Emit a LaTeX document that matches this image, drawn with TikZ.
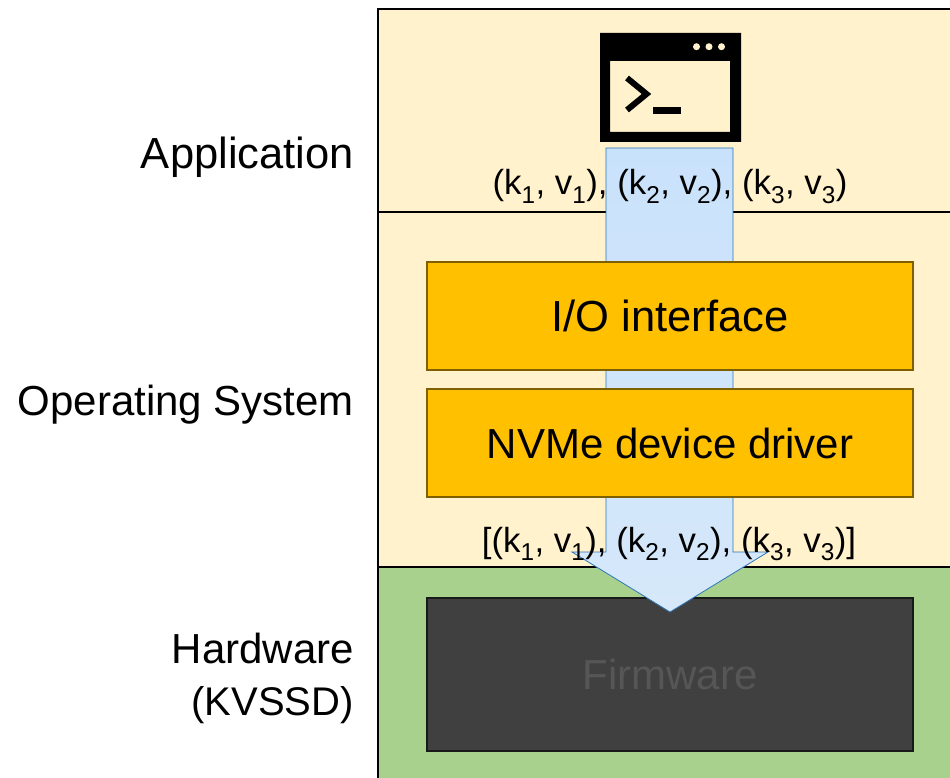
\documentclass[tikz,border=0pt]{standalone}
\usepackage{fontspec}
\setmainfont{Liberation Sans}
\usepackage{xcolor}
\definecolor{osback}{HTML}{FFF2CC}
\definecolor{hwback}{HTML}{A9D18E}
\definecolor{boxgold}{HTML}{FFC000}
\definecolor{boxedge}{HTML}{7F6000}
\definecolor{fwdark}{HTML}{404040}
\definecolor{fwtext}{HTML}{565656}
\definecolor{arrowtop}{HTML}{C9E2FB}
\definecolor{arrowbot}{HTML}{D6E8FA}
\definecolor{arrowedge}{HTML}{2E75B6}
\newcommand\kv[1]{(k\textsubscript{#1}, v\textsubscript{#1})}
\newcommand\bigfont{\fontsize{42}{52}\selectfont}
\newcommand\widefont{\fontsize{43.5}{52}\selectfont}
\newcommand\narrowfont{\fontsize{40}{52}\selectfont}
\newcommand\tuplefont{\fontsize{34.8}{42}\selectfont}
\tikzstyle{layerline}=[line width=2.2pt,black]
\tikzstyle{layertext}=[anchor=base east,align=right,inner sep=0pt,font=\bigfont]
\tikzstyle{gold}=[draw=boxedge,fill=boxgold,line width=2.2pt,minimum width=486pt,minimum height=108pt,inner sep=0pt,font=\bigfont]
\tikzstyle{firm}=[draw=black!90,fill=fwdark,text=fwtext,line width=2.2pt,minimum width=486pt,minimum height=153pt,inner sep=0pt,font=\bigfont]
\tikzstyle{tuple}=[anchor=base,inner sep=0pt,font=\tuplefont]

\begin{document}
\begin{tikzpicture}[x=1pt,y=-1pt]
	\useasboundingbox (0,0) rectangle (950,778);
	\clip (0,0) rectangle (950,778);
	% layers
	\fill[osback] (378,9) rectangle (950,567);
	\fill[hwback] (378,567) rectangle (950,778);
	\draw[layerline] (950,9) -- (378,9) -- (378,778);
	\draw[layerline] (378,212) -- (950,212);
	\draw[layerline] (378,567) -- (950,567);
	\node[firm] (firmware) at (670,674.5) {Firmware};
	% arrow goes over the lines, under the boxes
	\draw[draw=arrowedge,line width=.8pt,top color=arrowtop,bottom color=arrowbot]
		(606,148) -- (733,148) -- (733,552) -- (768,552) -- (670,612) -- (572,552) -- (606,552) -- cycle;
	\node[gold,font=\widefont] (iface) at (670,316) {I/O interface};
	\node[gold] (driver) at (670,443) {NVMe device driver};
	% terminal icon
	\fill[black,even odd rule] (600,33) rectangle (741,142) (610,61) rectangle (730,132);
	\foreach \xdot in {696.5,709,721.5}
		\fill[osback] (\xdot,46.7) circle (3.5);
	\draw[line width=6pt] (627,78) -- (646.5,94) -- (627,110);
	\fill[black] (652.5,107) rectangle (680.5,114);
	% texts
	\node[layertext,font=\widefont] (application) at (354,169) {Application};
	\node[layertext] (opsys) at (354,415) {Operating System};
	\node[layertext] (hardware) at (354,715) {Hardware\\{\narrowfont(KVSSD)}};
	\node[tuple] (tuplesup) at (670,195) {\kv1, \kv2, \kv3};
	\node[tuple] (tupleslow) at (669,552) {[\kv1, \kv2, \kv3]};
\end{tikzpicture}
\end{document}
